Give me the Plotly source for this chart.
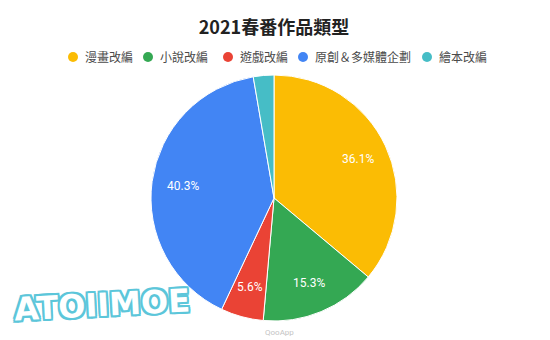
import math
import plotly.graph_objects as go

# Anime genres of the 2021 spring season (share of titles, %)
categories = ["漫畫改編", "小說改編", "遊戲改編", "原創＆多媒體企劃", "繪本改編"]
shares = [36.1, 15.3, 5.6, 40.3, 2.7]
colors = ["#FBBC04", "#34A853", "#EA4335", "#4285F4", "#46BDC6"]
label_min = 5.0  # slices smaller than this get no label

W, H = 550, 340
cjk = "Noto Sans CJK TC"
latin = "Roboto, Noto Sans, sans-serif"

# pie geometry in pixels
cx, cy, r = 274, 198, 123
label_frac = 0.75          # labels sit at 3/4 of the radius
legend_y = 57
legend_dots = [73, 148, 228, 303, 427]

fig = go.Figure()

fig.add_trace(go.Pie(
    labels=categories,
    values=shares,
    textinfo="none",
    marker=dict(colors=colors, line=dict(color="white", width=1)),
    sort=False,
    direction="clockwise",
    rotation=0,
    showlegend=False,
    hoverinfo="label+percent",
    domain=dict(x=[(cx - r) / W, (cx + r) / W], y=[(H - cy - r) / H, (H - cy + r) / H]),
))

annotations = []
shapes = []

# percentage labels along each slice's bisector
total = sum(shares)
acc = 0.0
for v in shares:
    mid = (acc + v / 2) / total * 2 * math.pi
    acc += v
    if v < label_min:
        continue
    px = cx + label_frac * r * math.sin(mid)
    py = cy - label_frac * r * math.cos(mid)
    annotations.append(dict(
        text=f"{v:.1f}%", xref="paper", yref="paper",
        x=px / W, y=1 - py / H, xanchor="center", yanchor="middle",
        showarrow=False, font=dict(family=latin, size=12, color="white"),
    ))

# legend: round swatches with labels
for name, c, dx in zip(categories, colors, legend_dots):
    shapes.append(dict(
        type="circle", xref="paper", yref="paper",
        x0=(dx - 5) / W, x1=(dx + 5) / W,
        y0=1 - (legend_y + 5) / H, y1=1 - (legend_y - 5) / H,
        fillcolor=c, line=dict(width=0),
    ))
    annotations.append(dict(
        text=name, xref="paper", yref="paper",
        x=(dx + 10) / W, y=1 - legend_y / H, xanchor="left", yanchor="middle",
        showarrow=False, font=dict(family=cjk, size=12, color="#4a4a4a"),
    ))

# site watermarks
annotations.append(dict(
    text="<b>ATOIIMOE</b>", xref="paper", yref="paper",
    x=102 / W, y=1 - 305 / H, xanchor="center", yanchor="middle",
    showarrow=False, textangle=-3,
    font=dict(
        family="DejaVu Sans", size=32, color="white",
        shadow="2px 0 0 #5CC6DA, -2px 0 0 #5CC6DA, 0 2px 0 #5CC6DA, 0 -2px 0 #5CC6DA, "
               "2px 2px 0 #5CC6DA, -2px -2px 0 #5CC6DA, 2px -2px 0 #5CC6DA, -2px 2px 0 #5CC6DA",
    ),
))
annotations.append(dict(
    text="QooApp", xref="paper", yref="paper",
    x=280 / W, y=1 - 332 / H, xanchor="center", yanchor="middle",
    showarrow=False, font=dict(family=latin, size=8, color="#c4c4c4"),
))

fig.update_layout(
    width=W, height=H,
    margin=dict(l=0, r=0, t=0, b=0),
    paper_bgcolor="white",
    plot_bgcolor="white",
    title=dict(
        text="<b>2021春番作品類型</b>",
        x=274 / W, xanchor="center",
        y=1 - 28 / H, yanchor="middle",
        font=dict(family=cjk, size=18, color="#222222"),
    ),
    annotations=annotations,
    shapes=shapes,
)

fig.write_html("out.html")
